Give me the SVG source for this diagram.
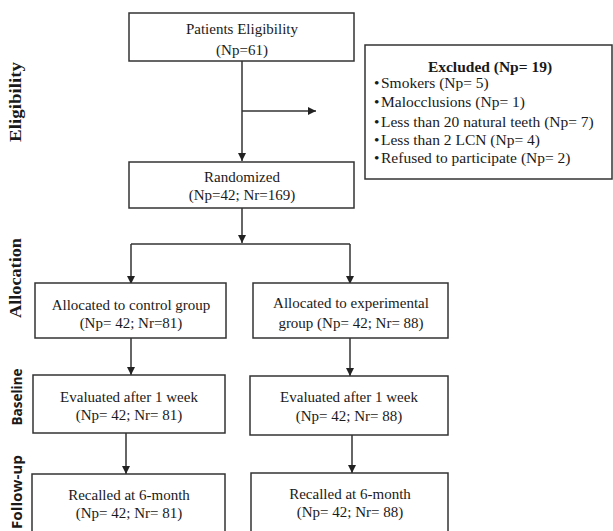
<svg xmlns="http://www.w3.org/2000/svg" width="613" height="531" viewBox="0 0 613 531">
<style>
.box{fill:#fff;stroke:#333;stroke-width:1.5}
.t{font-family:"Liberation Serif","Times New Roman",serif;font-size:15px;fill:#1a1a1a;text-anchor:middle}
.ex{font-family:"Liberation Serif","Times New Roman",serif;font-size:15.5px;fill:#1a1a1a}
.side{font-family:"Liberation Serif","Times New Roman",serif;font-weight:bold;font-size:17px;fill:#1a1a1a;text-anchor:middle}
.sides{font-family:"Open Sans","Liberation Sans",sans-serif;font-weight:bold;font-size:15px;fill:#1a1a1a;text-anchor:middle}
.c{fill:none;stroke:#333;stroke-width:1.5}
</style>
<defs>
<marker id="ah" markerUnits="userSpaceOnUse" markerWidth="10" markerHeight="10" refX="8" refY="4" orient="auto">
<path d="M0,0 L8,4 L0,8 Z" fill="#222"/>
</marker>
</defs>
<rect width="613" height="531" fill="#fff"/>
<g id="labels">
<text class="side" transform="translate(21,102) rotate(-90)" textLength="80" lengthAdjust="spacingAndGlyphs">Eligibility</text>
<text class="side" transform="translate(21,278) rotate(-90)" textLength="80" lengthAdjust="spacingAndGlyphs">Allocation</text>
<text class="sides" transform="translate(22,397) rotate(-90)" textLength="57" lengthAdjust="spacingAndGlyphs">Baseline</text>
<text class="sides" transform="translate(22,455) rotate(-90)" style="text-anchor:end" textLength="74" lengthAdjust="spacingAndGlyphs">Follow-up</text>
</g>
<g id="connectors">
<path class="c" d="M242,61 V161" marker-end="url(#ah)"/>
<path class="c" d="M242,111 H316" marker-end="url(#ah)"/>
<path class="c" d="M242,208 V243" marker-end="url(#ah)"/>
<path class="c" d="M131,244 H350"/>
<path class="c" d="M131,244 V284" marker-end="url(#ah)"/>
<path class="c" d="M350,244 V284" marker-end="url(#ah)"/>
<path class="c" d="M131,338 V375" marker-end="url(#ah)"/>
<path class="c" d="M350,338 V376" marker-end="url(#ah)"/>
<path class="c" d="M126,433 V474" marker-end="url(#ah)"/>
<path class="c" d="M352,435 V473" marker-end="url(#ah)"/>
</g>
<g id="eligibility">
<rect class="box" x="129" y="13" width="225" height="48"/>
<text class="t" x="242" y="34">Patients Eligibility</text>
<text class="t" x="242" y="55">(Np=61)</text>
</g>
<g id="excluded">
<rect class="box" x="365" y="45" width="247" height="134"/>
<text class="ex" x="490" y="72" style="text-anchor:middle;font-weight:bold">Excluded (Np= 19)</text>
<text class="ex" x="374" y="88">•<tspan x="381">Smokers (Np= 5)</tspan></text>
<text class="ex" x="374" y="107">•<tspan x="381">Malocclusions (Np= 1)</tspan></text>
<text class="ex" x="374" y="127">•<tspan x="381">Less than 20 natural teeth (Np= 7)</tspan></text>
<text class="ex" x="374" y="145">•<tspan x="381">Less than 2 LCN (Np= 4)</tspan></text>
<text class="ex" x="374" y="163">•<tspan x="381">Refused to participate (Np= 2)</tspan></text>
</g>
<g id="randomized">
<rect class="box" x="129" y="162" width="225" height="46"/>
<text class="t" x="242" y="182">Randomized</text>
<text class="t" x="242" y="200">(Np=42; Nr=169)</text>
</g>
<g id="alloc-control">
<rect class="box" x="35" y="283" width="191" height="55"/>
<text class="t" x="131" y="310">Allocated to control group</text>
<text class="t" x="131" y="328">(Np= 42; Nr=81)</text>
</g>
<g id="alloc-exp">
<rect class="box" x="253" y="283" width="195" height="55"/>
<text class="t" x="351" y="308">Allocated to experimental</text>
<text class="t" x="351" y="328">group (Np= 42; Nr= 88)</text>
</g>
<g id="eval-control">
<rect class="box" x="33" y="375" width="192" height="58"/>
<text class="t" x="129" y="402">Evaluated after 1 week</text>
<text class="t" x="129" y="420">(Np= 42; Nr= 81)</text>
</g>
<g id="eval-exp">
<rect class="box" x="250" y="376" width="198" height="59"/>
<text class="t" x="349" y="402">Evaluated after 1 week</text>
<text class="t" x="349" y="421">(Np= 42; Nr= 88)</text>
</g>
<g id="recall-control">
<rect class="box" x="32" y="474" width="193" height="70"/>
<text class="t" x="129" y="500">Recalled at 6-month</text>
<text class="t" x="129" y="518">(Np= 42; Nr= 81)</text>
</g>
<g id="recall-exp">
<rect class="box" x="251" y="473" width="197" height="70"/>
<text class="t" x="350" y="499">Recalled at 6-month</text>
<text class="t" x="350" y="517">(Np= 42; Nr= 88)</text>
</g>
</svg>
